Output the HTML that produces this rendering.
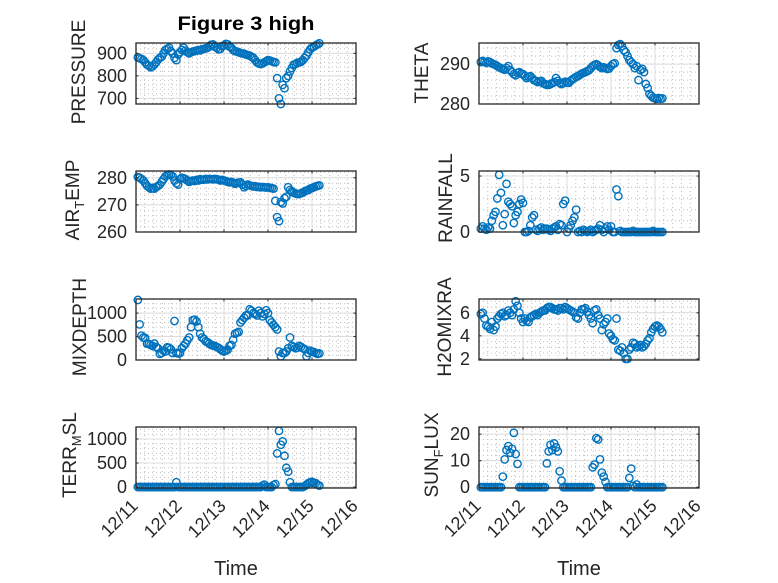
<!DOCTYPE html>
<html>
<head>
<meta charset="utf-8">
<style>
  html,body{margin:0;padding:0;background:#fff;}
  svg{display:block;font-family:"Liberation Sans",Arial,sans-serif;}
</style>
</head>
<body>
<svg id="fig" width="778" height="583" viewBox="0 0 778 583" xmlns="http://www.w3.org/2000/svg">
  <rect x="0" y="0" width="778" height="583" fill="#fff"/>
  <text x="246" y="30" text-anchor="middle" font-size="19" font-weight="bold" fill="#000" textLength="137" lengthAdjust="spacingAndGlyphs">Figure 3 high</text>
</svg>
<script>
// ---- shared time axis (hours since 12/11 00:00) ----
const hours = [1,2,3,4,5,6,7,8,9,10,11,12,13,14,15,16,17,18,19,20,21,22,23,24,25,26,27,28,29,30,31,32,33,34,35,36,37,38,39,40,41,42,43,44,45,46,47,48,49,50,51,52,53,54,55,56,57,58,59,60,61,62,63,64,65,66,67,68,69,70,71,72,73,74,75,76,77,78,79,80,81,82,83,84,85,86,87,88,89,90,91,92,93,94,95,96,97,98,99,100];
const xTickLabels = ["12/11","12/12","12/13","12/14","12/15","12/16"];
const xTickDays = [0,1,2,3,4,5];

// ---- series values ----
const pressure = [882,878,875,870,860,850,845,838,842,850, 860,872,880,885,900,915,920,925,910,900, 880,870,895,905,915,925,912,905,900,905, 908,910,912,915,913,918,920,922,925,930, 938,940,930,925,918,920,932,935,942,940, 930,925,915,910,908,905,902,900,898,895, 892,890,885,880,870,860,855,852,855,860, 865,870,868,865,862,860,790,700,675,760, 745,790,800,820,835,850,852,858,860,862, 870,880,890,905,918,925,930,935,940,945];
const theta = [290.5,290.8,290.6,290.3,290.7,290.5,290.2,290.0,289.8,289.5, 289.2,289.0,288.8,288.6,289.0,289.5,288.5,288.0,287.5,287.2, 287.8,288.0,287.6,287.5,287.0,286.5,286.8,287.0,286.5,286.0, 285.8,285.5,285.7,285.8,285.2,285.0,284.8,284.8,285.0,285.2, 285.5,286.5,285.8,285.3,285.0,285.2,285.6,285.4,285.3,285.8, 286.2,286.5,286.8,287.0,287.3,287.6,287.8,288.0,288.2,288.5, 289.0,289.5,289.8,290.0,289.7,289.3,289.0,289.2,289.0,288.8, 288.9,289.5,290.0,290.2,294.0,294.8,295.0,294.5,293.5,293.0, 292.0,291.0,290.5,290.0,289.0,289.5,286.0,288.5,288.8,288.0, 285.0,284.0,282.5,282.0,281.6,281.4,281.3,281.5,281.3,281.4];
const airTemp = [280.3,280.0,279.5,279.0,278.0,277.0,276.5,276.0,276.2,276.0, 276.5,277.0,277.5,278.5,279.5,280.5,281.0,281.2,281.0,280.5, 279.0,278.0,277.5,279.5,280.0,279.8,279.5,279.0,278.5,278.8, 279.0,278.8,279.2,279.0,279.5,279.3,279.3,279.6,279.4,279.6, 279.5,279.4,279.6,279.5,279.3,279.0,279.2,279.0,278.8,278.5, 278.3,278.5,278.2,277.8,278.0,278.2,278.3,277.5,276.5,277.0, 277.5,277.2,277.0,276.8,276.9,276.6,276.7,276.5,276.6,276.5, 276.4,276.5,276.3,276.2,276.0,271.5,265.5,264.0,271.0,270.5, 272.5,273.0,276.5,275.5,275.0,274.5,274.2,274.0,274.0,274.3, 274.5,275.0,275.3,275.5,276.0,276.2,276.5,276.8,277.0,277.2];
const rainfall = [0.3,0.5,0.3,0.2,0.4,0.3,1.0,1.5,1.8,3.0, 5.1,3.5,0.6,1.6,4.3,2.7,2.5,2.3,0.8,1.5, 1.8,2.5,2.9,2.6,0.0,0.0,0.1,0.6,1.3,1.5, 0.2,0.1,0.3,0.4,0.2,0.3,0.3,0.2,0.1,0.3, 0.4,0.5,0.2,0.7,0.6,2.5,2.8,0.0,0.3,0.6, 1.0,1.3,2.0,0.0,0.1,0.0,0.2,0.1,0.0,0.1, 0.2,0.0,0.1,0.2,0.3,0.6,0.2,0.0,0.3,0.5, 0.2,0.5,0.0,0.0,3.8,3.2,0.1,0.0,0.0,0.0, 0.0,0.0,0.0,0.1,0.0,0.0,0.0,0.0,0.0,0.0, 0.0,0.0,0.0,0.0,0.1,0.0,0.0,0.0,0.0,0.0];
const mixDepth = [1280,760,520,480,470,350,340,320,300,350, 280,250,130,150,200,180,270,260,230,150, 830,150,140,150,250,300,350,420,480,700, 850,860,820,700,560,480,450,400,380,350, 320,310,300,280,260,230,200,180,200,220, 300,320,430,560,580,600,800,850,900,950, 950,1080,1050,1000,980,950,1050,1000,930,980, 1060,1000,850,800,750,700,650,180,80,150, 150,180,250,480,300,280,250,260,300,280, 250,230,80,150,200,180,170,150,130,140];
const h2oMix = [5.9,6.0,5.5,4.9,4.8,4.6,5.2,4.5,4.8,5.5, 5.7,5.9,6.0,5.7,5.8,6.2,6.0,5.8,6.3,7.0, 6.6,6.0,5.5,5.2,5.5,5.3,5.2,5.6,5.7,5.8, 5.9,5.8,6.0,6.1,6.2,6.2,6.4,6.5,6.5,6.4, 6.3,6.3,6.2,6.4,6.4,6.3,6.5,6.4,6.3,6.2, 6.1,6.0,5.6,5.5,6.0,6.3,6.3,6.4,6.1,5.8, 5.5,5.1,6.2,6.3,5.8,5.5,4.5,5.0,5.2,5.5, 4.2,4.0,3.7,3.6,5.5,2.8,2.7,3.0,2.5,2.0, 2.0,2.8,3.0,3.4,3.3,3.0,3.1,3.2,3.0,3.1, 3.3,3.6,3.8,4.3,4.6,4.8,4.9,4.8,4.6,4.3];
const terrMsl = [0,0,0,0,0,0,0,0,0,0, 0,0,0,0,0,0,0,0,0,0, 0,100,0,0,0,0,0,0,0,0, 0,0,0,0,0,0,0,0,0,0, 0,0,0,0,0,0,0,0,0,0, 0,0,0,0,0,0,0,0,0,0, 0,0,0,0,0,0,0,0,30,50, 0,0,0,0,40,60,700,1170,880,950, 650,400,320,100,0,0,0,0,0,0, 0,20,50,80,100,110,90,80,50,30];
const sunFlux = [0,0,0,0,0,0,0,0,0,0, 0,0,4,10.5,14,15.5,13,14.5,20.5,12.5, 8.8,0,0,0,0,0,0,0,0,0, 0,0,0,0,0,0,9,13.5,16,14, 16.5,15,13.5,6,2.5,0,0,0,0,0, 0,0,0,0,0,0,0,0,0,0, 0,7.5,8.5,18.5,18,10.5,5.5,4,2,0, 0,0,0,0,0,0,0,0,0,0, 0,3.5,7,0.5,0,1,0,0,0,0, 0,0,0,0,0,0,0,0,0,0];

// ---- y tick labels ----
const pressureTicks = [700,800,900];
const thetaTicks = [280,290];
const airTempTicks = [260,270,280];
const rainfallTicks = [0,5];
const mixDepthTicks = [0,500,1000];
const h2oTicks = [2,4,6];
const terrTicks = [0,500,1000];
const sunTicks = [0,10,20];

const NS = "http://www.w3.org/2000/svg";
const svg = document.getElementById("fig");
function mk(tag, attrs, parent){
  const e = document.createElementNS(NS, tag);
  for (const k in attrs) e.setAttribute(k, attrs[k]);
  (parent||svg).appendChild(e);
  return e;
}

const W = 220, H = 61;
const panels = [
  {name:"pressure", x:136, y:43, ymin:675, ymax:946, ticks:pressureTicks, minor:20, vals:pressure, lab:[["PRESSURE",0]], lx:85, ly:72, tickEnd:127, xlabels:false},
  {name:"theta", x:479, y:43, ymin:280, ymax:295.3, ticks:thetaTicks, minor:2, vals:theta, lab:[["THETA",0]], lx:428, ly:73, tickEnd:470, xlabels:false},
  {name:"air-temp", x:136, y:171, ymin:260, ymax:282.5, ticks:airTempTicks, minor:2, vals:airTemp, lab:[["AIR",0],["T",1],["EMP",0]], lx:79, ly:200, tickEnd:127, xlabels:false},
  {name:"rainfall", x:479, y:171, ymin:0, ymax:5.45, ticks:rainfallTicks, minor:1, vals:rainfall, lab:[["RAINFALL",0]], lx:452, ly:198, tickEnd:470, xlabels:false},
  {name:"mixdepth", x:136, y:299, ymin:0, ymax:1300, ticks:mixDepthTicks, minor:100, vals:mixDepth, lab:[["MIXDEPTH",0]], lx:86, ly:327, tickEnd:127, xlabels:false},
  {name:"h2omixra", x:479, y:299, ymin:1.9, ymax:7.2, ticks:h2oTicks, minor:0.5, vals:h2oMix, lab:[["H2OMIXRA",0]], lx:451, ly:327, tickEnd:470, xlabels:false},
  {name:"terr-msl", x:136, y:427, ymin:-20, ymax:1250, ticks:terrTicks, minor:100, vals:terrMsl, lab:[["TERR",0],["M",1],["SL",0]], lx:76, ly:455, tickEnd:127, xlabels:true},
  {name:"sun-flux", x:479, y:427, ymin:-0.3, ymax:22.7, ticks:sunTicks, minor:2, vals:sunFlux, lab:[["SUN",0],["F",1],["LUX",0]], lx:438, ly:455, tickEnd:470, xlabels:true}
];

panels.forEach(p => {
  const g = mk("g", {});
  
  
  const xs = h => p.x + (h/24)/5*W;
  const xd = d => p.x + d/5*W;
  const ys = v => p.y + H - (v - p.ymin)/(p.ymax - p.ymin)*H;
  mk("rect", {x:p.x, y:p.y, width:W, height:H, fill:"#fff"}, g);
  for (let d=0; d<5; d+=0.2){
    const X = xd(d);
    mk("line", {x1:X, x2:X, y1:p.y, y2:p.y+H, stroke:"#bdbdbd", "stroke-width":1, "stroke-dasharray":"1,3"}, g);
  }
  const startM = Math.ceil(p.ymin/p.minor)*p.minor;
  for (let v=startM; v<=p.ymax; v+=p.minor){
    const Y = ys(v);
    mk("line", {x1:p.x, x2:p.x+W, y1:Y, y2:Y, stroke:"#bdbdbd", "stroke-width":1, "stroke-dasharray":"1,3"}, g);
  }
  xTickDays.forEach(d => {
    const X = xd(d);
    mk("line", {x1:X, x2:X, y1:p.y, y2:p.y+H, stroke:"#dcdcdc", "stroke-width":1}, g);
  });
  p.ticks.forEach(v => {
    const Y = ys(v);
    mk("line", {x1:p.x, x2:p.x+W, y1:Y, y2:Y, stroke:"#dcdcdc", "stroke-width":1}, g);
  });
  p.vals.forEach((v,i) => {
    const c = mk("circle", {cx:xs(hours[i]), cy:ys(v), r:3.7, fill:"none", stroke:"#0072BD", "stroke-width":1.4}, g);
    
    
  });
  mk("rect", {x:p.x, y:p.y, width:W, height:H, fill:"none", stroke:"#262626", "stroke-width":1.3}, g);
  xTickDays.forEach(d => {
    const X = xd(d);
    mk("line", {x1:X, x2:X, y1:p.y+H, y2:p.y+H-2.5, stroke:"#262626", "stroke-width":1}, g);
    mk("line", {x1:X, x2:X, y1:p.y, y2:p.y+2.5, stroke:"#262626", "stroke-width":1}, g);
  });
  p.ticks.forEach(v => {
    const Y = ys(v);
    mk("line", {x1:p.x, x2:p.x+2.5, y1:Y, y2:Y, stroke:"#262626", "stroke-width":1}, g);
    mk("line", {x1:p.x+W, x2:p.x+W-2.5, y1:Y, y2:Y, stroke:"#262626", "stroke-width":1}, g);
    const t = mk("text", {x:p.tickEnd, y:Y+6, "text-anchor":"end", "font-size":18, fill:"#262626"}, g);
    t.textContent = String(v);
    
    
  });
  const lab = mk("text", {x:p.lx, y:p.ly, "text-anchor":"middle", "font-size":19, fill:"#262626", transform:`rotate(-90 ${p.lx} ${p.ly})`}, g);
  
  
  p.lab.forEach(seg => {
    const ts = mk("tspan", {}, lab);
    if (seg[1]) { ts.setAttribute("font-size", "13"); ts.setAttribute("dy", "5"); }
    else if (lab.childNodes.length > 1) { ts.setAttribute("dy", "-5"); }
    ts.textContent = seg[0];
  });
  if (p.xlabels){
    xTickDays.forEach((d,i) => {
      const X = xd(d) + 3, Y = p.y + H + 19;
      const t = mk("text", {x:X, y:Y, "text-anchor":"end", "font-size":18, fill:"#262626", transform:`rotate(-45 ${X} ${Y})`}, g);
      t.textContent = xTickLabels[i];
      
      
    });
    const tl = mk("text", {x:p.x + W/2 - 10, y:575, "text-anchor":"middle", "font-size":20, fill:"#262626"}, g);
    tl.textContent = "Time";
    
    
  }
});
</script>
</body>
</html>
